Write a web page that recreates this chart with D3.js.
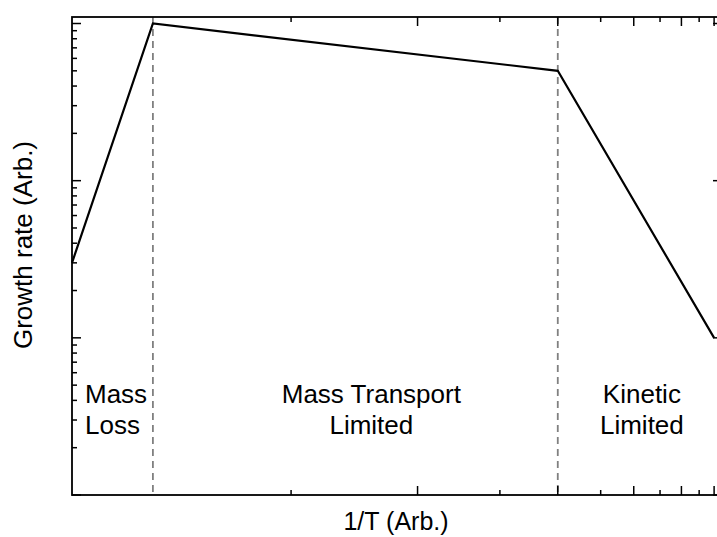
<!DOCTYPE html>
<html>
<head>
<meta charset="utf-8">
<script src="https://cdn.jsdelivr.net/npm/d3@7"></script>
<style>
  html, body { margin: 0; padding: 0; background: #fff; }
  svg { display: block; font-family: "Liberation Sans", Arial, sans-serif; }
</style>
</head>
<body>
<div id="chart"></div>
<script>
// growth regimes sketch, log rate vs reciprocal temperature

// line vertices (temperature in C, rate in arb. units)
const tempC = [0, 30, 400, 1000];
const rate  = [3, 100, 50, 1];

// regime boundaries (dashed)
const boundaryC = [30, 400];

// x ticks, reciprocal scale, labelled in C but labels hidden
const tickC  = [100, 200, 300, 400, 500, 600, 700, 800, 900, 1000];
const majorC = [200, 400, 600, 800, 1000];

const regionText = [
  ["Mass", "Loss"],
  ["Mass Transport", "Limited"],
  ["Kinetic", "Limited"]
];

const W = 717, H = 537;
const box = { left: 72, right: 722, top: 17, bottom: 495 };

const svg = d3.select("#chart").append("svg")
  .attr("width", W)
  .attr("height", H);

// 1/T scale
const x = d3.scaleLinear()
  .domain([1 / (0 + 273.15), 1 / (1060 + 273.15)])
  .range([box.left, box.right]);
const px = t => x(1 / (t + 273.15));

const y = d3.scaleLog()
  .domain([0.1, 110])
  .range([box.bottom, box.top]);

const MAJ = 9, MIN = 5;

// dashed boundaries first, under the frame
svg.selectAll("line.bound")
  .data(boundaryC)
  .join("line")
  .attr("class", "bound")
  .attr("x1", d => px(d)).attr("x2", d => px(d))
  .attr("y1", box.top).attr("y2", box.bottom)
  .attr("stroke", "#808080")
  .attr("stroke-width", 1.8)
  .attr("stroke-dasharray", "7,5");

// y ticks, both sides, inward
const yTicks = y.ticks();
const isDecade = v => Math.abs(Math.log10(v) - Math.round(Math.log10(v))) < 1e-6;

svg.append("g").selectAll("line")
  .data(yTicks)
  .join("line")
  .attr("x1", box.left)
  .attr("x2", d => box.left + (isDecade(d) ? MAJ : MIN))
  .attr("y1", d => y(d)).attr("y2", d => y(d))
  .attr("stroke", "#000").attr("stroke-width", 1.5);

svg.append("g").selectAll("line")
  .data(yTicks)
  .join("line")
  .attr("x1", box.right)
  .attr("x2", d => box.right - (isDecade(d) ? MAJ : MIN))
  .attr("y1", d => y(d)).attr("y2", d => y(d))
  .attr("stroke", "#000").attr("stroke-width", 1.5);

// x ticks top and bottom
svg.append("g").selectAll("line")
  .data(tickC)
  .join("line")
  .attr("x1", d => px(d)).attr("x2", d => px(d))
  .attr("y1", box.bottom)
  .attr("y2", d => box.bottom - (majorC.includes(d) ? MAJ : MIN))
  .attr("stroke", "#000").attr("stroke-width", 1.5);

svg.append("g").selectAll("line")
  .data(tickC)
  .join("line")
  .attr("x1", d => px(d)).attr("x2", d => px(d))
  .attr("y1", box.top)
  .attr("y2", d => box.top + (majorC.includes(d) ? MAJ : MIN))
  .attr("stroke", "#000").attr("stroke-width", 1.5);

// frame
svg.append("rect")
  .attr("x", box.left).attr("y", box.top)
  .attr("width", box.right - box.left)
  .attr("height", box.bottom - box.top)
  .attr("fill", "none")
  .attr("stroke", "#000")
  .attr("stroke-width", 1.8);

// the growth line
const pts = tempC.map((t, i) => [t, rate[i]]);
svg.append("path")
  .datum(pts)
  .attr("fill", "none")
  .attr("stroke", "#000")
  .attr("stroke-width", 2.2)
  .attr("stroke-linejoin", "miter")
  .attr("d", d3.line().x(d => px(d[0])).y(d => y(d[1])));

// region labels
const fs = 25;
const lab = svg.append("g").attr("font-size", 26).attr("fill", "#000");

const mid = (px(boundaryC[0]) + px(boundaryC[1])) / 2 + 16;
const kin = (px(boundaryC[1]) + box.right) / 2 + 2;
const places = [
  { x: box.left + 13, anchor: "start" },
  { x: mid, anchor: "middle" },
  { x: kin, anchor: "middle" }
];

regionText.forEach((lines, i) => {
  lines.forEach((s, j) => {
    lab.append("text")
      .attr("x", places[i].x)
      .attr("y", 403 + j * 31)
      .attr("text-anchor", places[i].anchor)
      .text(s);
  });
});

// axis titles
svg.append("text")
  .attr("transform", `translate(32,${(box.top + box.bottom) / 2 - 11}) rotate(-90)`)
  .attr("text-anchor", "middle")
  .attr("font-size", 26)
  .text("Growth rate (Arb.)");

svg.append("text")
  .attr("x", 396)
  .attr("y", 530)
  .attr("text-anchor", "middle")
  .attr("font-size", fs)
  .text("1/T (Arb.)");
</script>
</body>
</html>
